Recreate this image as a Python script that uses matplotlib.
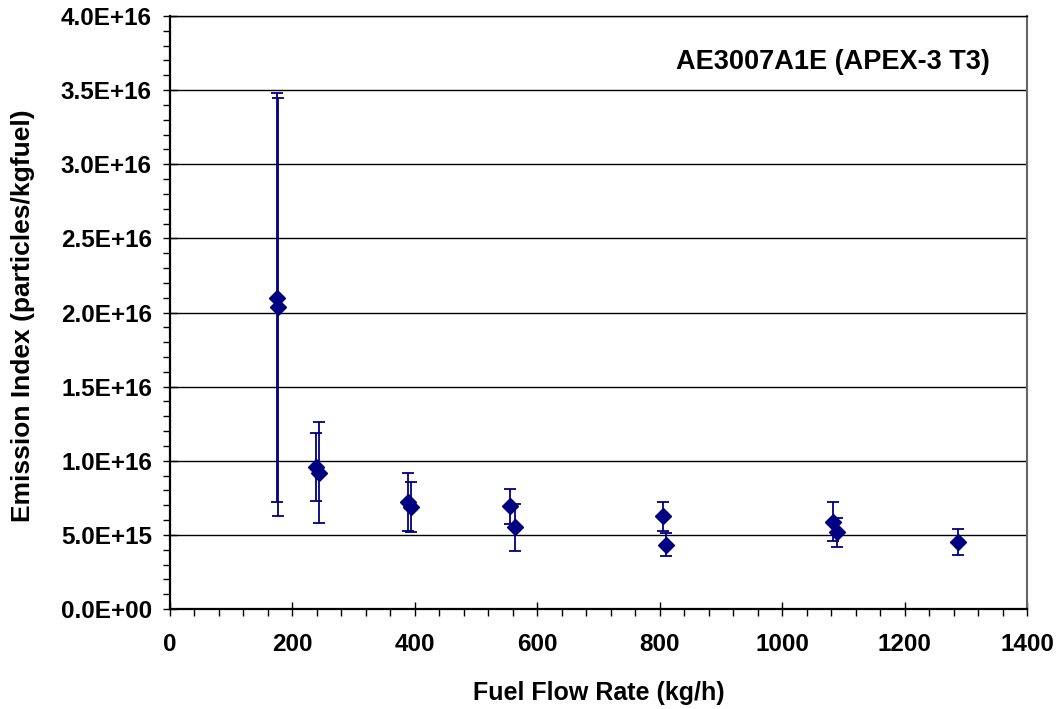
import matplotlib
matplotlib.use("Agg")
import matplotlib.pyplot as plt
from matplotlib.ticker import MultipleLocator, FuncFormatter

# fuel flow (kg/h), emission index (1e16 particles/kg fuel), symmetric error
fuel_flow = [174, 176, 238, 243, 388, 393, 556, 563, 805, 810, 1083, 1089, 1287]
emission_index = [2.10, 2.04, 0.96, 0.92, 0.723, 0.69, 0.692, 0.55,
                  0.625, 0.434, 0.59, 0.517, 0.453]
emission_err = [1.38, 1.41, 0.23, 0.34, 0.197, 0.168, 0.118, 0.16,
                0.10, 0.077, 0.13, 0.10, 0.087]
scale = 1e16

label_text = "AE3007A1E (APEX-3 T3)"
x_label = "Fuel Flow Rate (kg/h)"
y_label = "Emission Index (particles/kgfuel)"

plt.rcParams["font.family"] = ["Liberation Sans", "DejaVu Sans"]
plt.rcParams["font.weight"] = "bold"

navy = "#000080"

fig = plt.figure(figsize=(10.61, 7.09), dpi=100)
ax = fig.add_axes([0.1602, 0.141, 0.808, 0.8364])

y_vals = [v * scale for v in emission_index]
y_errs = [e * scale for e in emission_err]
ax.errorbar(fuel_flow, y_vals, yerr=y_errs, fmt="D", color=navy,
            markersize=8.5, ecolor=navy, elinewidth=1.3, capsize=4,
            capthick=1.3, zorder=3)

ax.set_xlim(0, 1400)
ax.set_ylim(0, 4.0e16)
ax.xaxis.set_major_locator(MultipleLocator(200))
ax.xaxis.set_minor_locator(MultipleLocator(40))
ax.yaxis.set_major_locator(MultipleLocator(0.5e16))
ax.yaxis.set_minor_locator(MultipleLocator(0.1e16))
ax.yaxis.set_major_formatter(FuncFormatter(lambda v, p: f"{v:.1E}"))

ax.tick_params(which="major", direction="inout", length=10, width=1,
               labelsize=17.5)
ax.tick_params(axis="x", which="major", pad=12)
ax.tick_params(axis="y", which="major", pad=8)
ax.tick_params(which="minor", direction="out", length=5, width=1)
ax.grid(axis="y", which="major", color="black", linewidth=1)
ax.set_axisbelow(True)

ax.spines["left"].set_linewidth(1.6)
ax.spines["bottom"].set_linewidth(1.6)
ax.spines["right"].set_color("#666666")
ax.spines["right"].set_linewidth(1.5)
ax.spines["top"].set_linewidth(1)

ax.set_xlabel(x_label, fontsize=18, fontweight="bold", labelpad=18)
ax.set_ylabel(y_label, fontsize=19, fontweight="bold")
ax.yaxis.set_label_coords(-0.157, 0.495)
ax.text(0.956, 0.923, label_text, transform=ax.transAxes, ha="right",
        va="center", fontsize=19.5, fontweight="bold")

fig.savefig("out.png", dpi=100)
